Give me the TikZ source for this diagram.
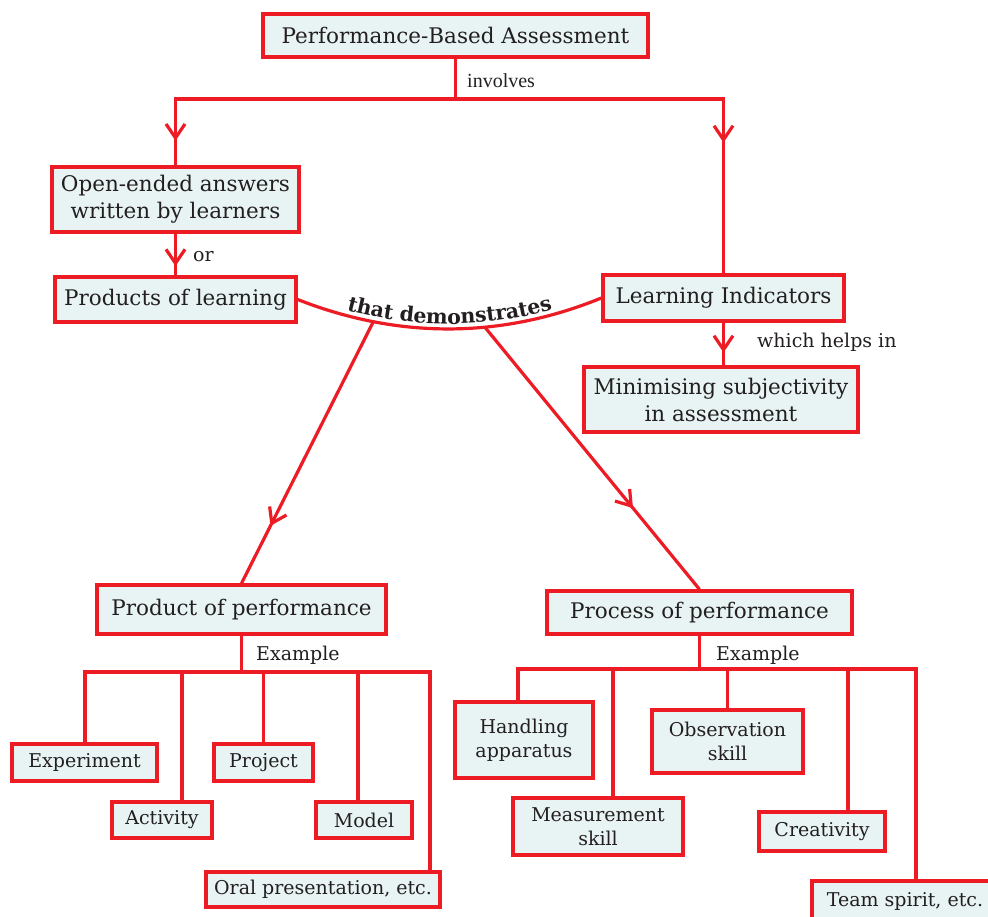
\documentclass[tikz,border=0pt]{standalone}
\usepackage{fontspec}
\setmainfont{DejaVu Serif}
\newfontfamily\timesface{Liberation Serif}
\usetikzlibrary{arrows.meta,decorations.markings,decorations.text}

\definecolor{linkred}{HTML}{ED1C24}
\definecolor{boxfill}{HTML}{E8F3F3}
\definecolor{ink}{HTML}{231F20}
\newcommand\demface{\fontsize{20.5}{22}\selectfont\bfseries}

\tikzset{
  bigbox/.style={draw=linkred, line width=3.3pt, fill=boxfill, text=ink,
    inner sep=0pt, align=center, font=\fontsize{21.5}{27}\selectfont},
  smallbox/.style={bigbox, font=\fontsize{19}{24}\selectfont},
  link/.style={color=linkred, line width=3.2pt},
  barb/.style={link, postaction={decorate}, decoration={markings,
    mark=at position #1 with {\arrow{Straight Barb[length=14pt,width=19pt]}}}},
  lbl/.style={text=ink, anchor=west, inner sep=0pt, font=\fontsize{19}{23}\selectfont},
}

\begin{document}
\begin{tikzpicture}[x=1pt,y=-1pt]
\useasboundingbox (0,0) rectangle (988,916);

% upper part
\node[bigbox, minimum width=385, minimum height=43] (pba)  at (455.5,35.5) {Performance-Based Assessment};
\node[bigbox, minimum width=247, minimum height=65] (open) at (175.5,199.5) {Open-ended answers\\written by learners};
\node[bigbox, minimum width=241, minimum height=45] (prod) at (175.5,299.5) {Products of learning};
\node[bigbox, minimum width=241, minimum height=46] (li)   at (723.5,298) {Learning Indicators};
\node[bigbox, minimum width=274, minimum height=65] (mini) at (721,399.5) {Minimising subjectivity\\in assessment};

% performance boxes
\node[bigbox, minimum width=289, minimum height=49] (pop)  at (241.5,609.5) {Product of performance};
\node[bigbox, minimum width=305, minimum height=43] (proc) at (699.5,612.5) {Process of performance};

% product examples
\node[smallbox, minimum width=145, minimum height=37] (exp)   at (84.5,762.5) {Experiment};
\node[smallbox, minimum width=100, minimum height=36] (act)   at (162,820) {Activity};
\node[smallbox, minimum width=99,  minimum height=37] (proj)  at (263.5,762.5) {Project};
\node[smallbox, minimum width=96,  minimum height=36] (model) at (364,820) {Model};
\node[smallbox, minimum width=234, minimum height=35] (oral)  at (323,889.5) {Oral presentation, etc.};

% process examples
\node[smallbox, minimum width=138, minimum height=76] (hand) at (524,740) {Handling\\apparatus};
\node[smallbox, minimum width=170, minimum height=57] (meas) at (598,826.5) {Measurement\\skill};
\node[smallbox, minimum width=151, minimum height=63] (obs)  at (727.5,741.5) {Observation\\skill};
\node[smallbox, minimum width=126, minimum height=39] (crea) at (822,831.5) {Creativity};
\node[smallbox, minimum width=186, minimum height=40] (team) at (905,901) {Team spirit, etc.};

% top split
\coordinate (jt) at (455.5,99);
\coordinate (jl) at (175.5,99);
\coordinate (jr) at (723.5,99);
\draw[link] (pba.south) -- (jt);
\draw[link, line cap=rect] (jl) -- (jr);
\draw[barb=0.63] (jl) -- (open.north);
\draw[barb=0.25] (jr) -- (li.north);
\draw[barb=0.78] (open.south) -- (prod.north);
\draw[barb=0.70] (li.south) -- (li.south |- mini.north);

\node[lbl, font=\timesface\fontsize{20}{24}\selectfont] (inv) at (467,81) {involves};
\node[lbl] (orl) at (193,257) {or};
\node[lbl] (whl) at (757,342) {which helps in};

% connecting arc
\draw[link] (prod.east) .. controls (398,339) and (501,339) .. (li.west)
  coordinate[pos=0.25] (al) coordinate[pos=0.616] (ar);
\path[decorate, decoration={text along path,
  text={|\color{ink}\demface|that demonstrates}, text align=center, raise=5pt}]
  (prod.east) .. controls (398,339) and (501,339) .. (li.west);
\draw[barb=0.78] (al) -- (pop.north);
\draw[barb=0.69] (ar) -- (proc.north);

% product tree
\coordinate (p1) at (85,672);
\coordinate (p2) at (182,672);
\coordinate (p3) at (263.5,672);
\coordinate (p4) at (358,672);
\coordinate (p5) at (430,672);
\draw[link] (pop.south) -- (pop.south |- p1);
\draw[link, line cap=rect] (p1) -- (p5);
\draw[link] (p1) -- (p1 |- exp.north);
\draw[link] (p2) -- (p2 |- act.north);
\draw[link] (p3) -- (p3 |- proj.north);
\draw[link] (p4) -- (p4 |- model.north);
\draw[link] (p5) -- (p5 |- oral.north);
\node[lbl] (exl) at (256,655) {Example};

% process tree
\coordinate (q1) at (518,669);
\coordinate (q2) at (613,669);
\coordinate (q3) at (727.5,669);
\coordinate (q4) at (848,669);
\coordinate (q5) at (916,669);
\draw[link] (proc.south) -- (proc.south |- q1);
\draw[link, line cap=rect] (q1) -- (q5);
\draw[link] (q1) -- (q1 |- hand.north);
\draw[link] (q2) -- (q2 |- meas.north);
\draw[link] (q3) -- (q3 |- obs.north);
\draw[link] (q4) -- (q4 |- crea.north);
\draw[link] (q5) -- (q5 |- team.north);
\node[lbl] (exr) at (716,655) {Example};
\end{tikzpicture}
\end{document}
